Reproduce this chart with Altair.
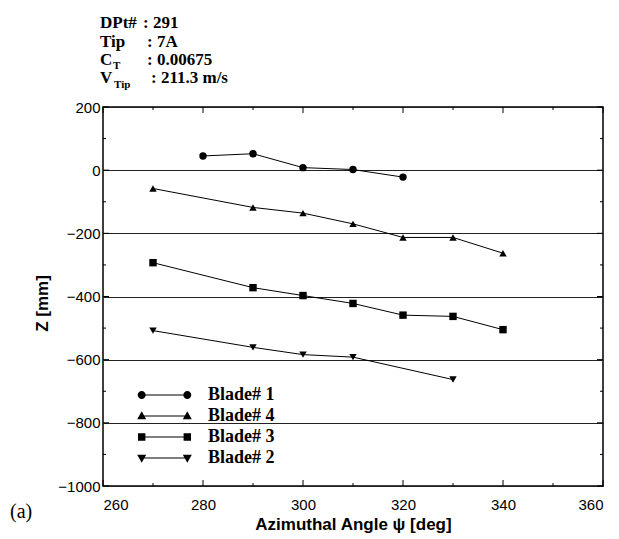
import altair as alt
import pandas as pd

# Rotor blade tip vertical positions versus azimuth
blade_names = ["Blade# 1", "Blade# 4", "Blade# 3", "Blade# 2"]

angle_b1 = [280, 290, 300, 310, 320]
z_b1 = [45, 52, 8, 2, -22]

angle_b4 = [270, 290, 300, 310, 320, 330, 340]
z_b4 = [-58, -118, -136, -170, -213, -213, -263]

angle_b3 = [270, 290, 300, 310, 320, 330, 340]
z_b3 = [-293, -372, -397, -422, -459, -463, -505]

angle_b2 = [270, 290, 300, 310, 330]
z_b2 = [-508, -561, -584, -592, -663]

x_major = [260, 280, 300, 320, 340, 360]
x_minor = [270, 290, 310, 330, 350]
y_major = [-1000, -800, -600, -400, -200, 0, 200]
y_minor = [-900, -700, -500, -300, -100, 100]

rows = []
for name, xs, zs in [
    ("Blade# 1", angle_b1, z_b1),
    ("Blade# 4", angle_b4, z_b4),
    ("Blade# 3", angle_b3, z_b3),
    ("Blade# 2", angle_b2, z_b2),
]:
    for a, z in zip(xs, zs):
        rows.append({"Blade": name, "Angle": a, "Z": z})
df = pd.DataFrame(rows)

W, H = 500, 379
SERIF = "Liberation Serif"
SANS = "Liberation Sans"

xscale = alt.Scale(domain=[260, 360], nice=False, zero=False)
yscale = alt.Scale(domain=[-1000, 200], nice=False, zero=False)

base = alt.Chart(df)

x_axis = alt.Axis(
    orient="bottom", values=x_major, ticks=False, tickSize=0, domain=False,
    grid=False, labelPadding=11, labelFont=SANS, labelFontSize=15,
    labelColor="black", format="d", title="Azimuthal Angle ψ [deg]",
    titleFont=SANS, titleFontSize=17, titleFontWeight="bold",
    titleColor="black", titleX=W / 2, titleY=38, titleBaseline="middle",
    titleAlign="center",
)
y_axis = alt.Axis(
    orient="left", values=y_major, ticks=False, tickSize=0, domain=False,
    grid=True, gridColor="#222", gridWidth=1, labelPadding=3,
    labelFont=SANS, labelFontSize=15, labelColor="black", format="d",
    title="Z [mm]", titleFont=SANS, titleFontSize=17, titleFontWeight="bold",
    titleColor="black", titleX=-61, titleY=196, titleBaseline="middle",
    titleAlign="center", titleAngle=270,
)

# Lines joining each blade's samples (these carry the labelled axes)
lines = base.mark_line(color="black", strokeWidth=1).encode(
    x=alt.X("Angle:Q", scale=xscale, axis=x_axis),
    y=alt.Y("Z:Q", scale=yscale, axis=y_axis),
    detail="Blade:N",
)

# Filled markers on the samples
points = base.mark_point(filled=True, color="black", size=55, opacity=1).encode(
    x=alt.X("Angle:Q", scale=xscale, axis=None),
    y=alt.Y("Z:Q", scale=yscale, axis=None),
    shape=alt.Shape(
        "Blade:N",
        scale=alt.Scale(domain=blade_names,
                        range=["circle", "triangle-up", "square", "triangle-down"]),
        legend=None,
    ),
)

# Legend glyphs: a line with a marker at each end (path units are 10 px);
# every sub-path is wound clockwise so overlaps stay filled
c = 2.28


def circle_at(cx, r=0.4):
    return f"M{cx - r},0A{r},{r} 0 1,1 {cx + r},0A{r},{r} 0 1,1 {cx - r},0Z"


def tri_up_at(cx):
    return f"M{cx},-0.47L{cx + 0.45},0.33L{cx - 0.45},0.33Z"


def tri_down_at(cx):
    return f"M{cx},0.47L{cx - 0.45},-0.33L{cx + 0.45},-0.33Z"


def square_at(cx, h=0.37):
    return f"M{cx - h},{-h}L{cx + h},{-h}L{cx + h},{h}L{cx - h},{h}Z"


seg = f"M{-c},-0.05L{c},-0.05L{c},0.05L{-c},0.05Z"
legend_paths = [
    seg + circle_at(-c) + circle_at(c),
    seg + tri_up_at(-c) + tri_up_at(c),
    seg + square_at(-c) + square_at(c),
    seg + tri_down_at(-c) + tri_down_at(c),
]

legend_layer = base.transform_filter("datum.Angle < 0").mark_point(
    filled=True, color="black"
).encode(
    x=alt.X("Angle:Q", scale=xscale, axis=None),
    y=alt.Y("Z:Q", scale=yscale, axis=None),
    shape=alt.Shape(
        "Blade:N",
        scale=alt.Scale(domain=blade_names, range=legend_paths),
        legend=alt.Legend(
            title=None, orient="none", legendX=51.5, legendY=278,
            padding=0, symbolSize=400, symbolFillColor="black",
            symbolStrokeColor="black", symbolStrokeWidth=0, symbolOpacity=1,
            labelFont=SERIF, labelFontSize=18, labelFontWeight="bold",
            labelColor="black", labelOffset=33.5, rowPadding=2,
            labelLimit=200,
        ),
    ),
)


# Inward tick marks on all four sides of the frame
def x_ticks(values, length, at_top):
    d = pd.DataFrame({"t": values})
    y0, y1 = (0, length) if at_top else (H - length, H)
    return alt.Chart(d).mark_rule(color="black", strokeWidth=1).encode(
        x=alt.X("t:Q", scale=xscale, axis=None),
        y=alt.value(y0), y2=alt.value(y1),
    )


def y_ticks(values, length, at_right):
    d = pd.DataFrame({"t": values})
    x0, x1 = (W - length, W) if at_right else (0, length)
    return alt.Chart(d).mark_rule(color="black", strokeWidth=1).encode(
        y=alt.Y("t:Q", scale=yscale, axis=None),
        x=alt.value(x0), x2=alt.value(x1),
    )


ticks = [
    x_ticks(x_major, 6, False), x_ticks(x_minor, 3, False),
    x_ticks(x_major, 6, True), x_ticks(x_minor, 3, True),
    y_ticks(y_major, 6, False), y_ticks(y_minor, 3, False),
    y_ticks(y_major, 6, True), y_ticks(y_minor, 3, True),
]

# Run conditions printed above the frame
one = alt.Data(values=[{}])


def note(text, x, y, size=17, weight="bold", font=SERIF):
    return alt.Chart(one).mark_text(
        text=text, align="left", baseline="alphabetic", font=font,
        fontSize=size, fontWeight=weight, color="black",
    ).encode(x=alt.value(x), y=alt.value(y))


notes = [
    note("DPt#", -3, -79),
    note(": 291", 40, -79),
    note("Tip", -3, -60.5),
    note(": 7A", 44, -60.5),
    note("C", -3, -42),
    note("T", 10, -38, size=11),
    note(": 0.00675", 44, -42),
    note("V", -3, -24),
    note("Tip", 11, -19, size=11),
    note(": 211.3 m/s", 48, -24),
    note("(a)", -93, 411, size=20, weight="normal"),
]

chart = alt.layer(
    lines, *ticks, points, legend_layer, *notes
).resolve_scale(
    shape="independent"
).resolve_axis(
    x="independent", y="independent"
).properties(
    width=W, height=H,
    autosize=alt.AutoSizeParams(type="none"),
    padding={"left": 103, "top": 107, "right": 16, "bottom": 53},
    background="white",
).configure_view(
    stroke="black", strokeWidth=1.5
)

chart.save("out.html", embed_options={"renderer": "svg", "actions": False})
